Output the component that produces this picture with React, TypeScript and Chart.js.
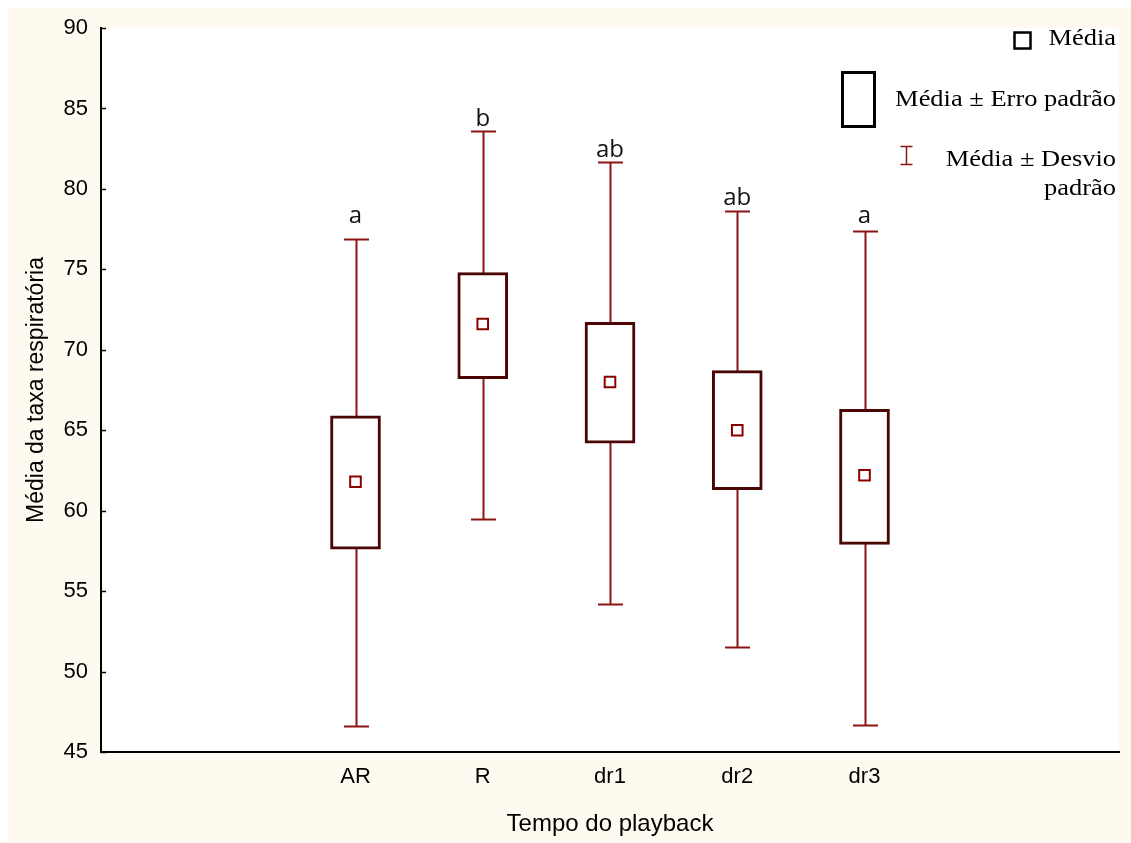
import React, { useEffect, useRef } from 'react';
import { Chart, registerables } from 'chart.js';

Chart.register(...registerables);

// ---- data ----
const slotLabels = ['', '', 'AR', 'R', 'dr1', 'dr2', 'dr3', '', ''];
const firstSlot = 2;
const categories = ['AR', 'R', 'dr1', 'dr2', 'dr3'];
const means = [61.8, 71.6, 68.0, 65.0, 62.2];
const seLow = [57.6, 68.2, 64.2, 61.3, 57.9];
const seHigh = [65.9, 74.8, 71.7, 68.7, 66.3];
const sdLow = [46.6, 59.5, 54.2, 51.5, 46.7];
const sdHigh = [76.9, 83.6, 81.7, 78.6, 77.4];
const groupLetters = ['a', 'b', 'ab', 'ab', 'a'];
const letterValues = [77.9, 83.9, 82.0, 79.0, 77.9];
const yMin = 45;
const yMax = 90;
const yStep = 5;

const CREAM = '#FFFAF0';
const WHISKER = '#8B1414';
const BOXLINE = '#4A0505';
const MEANLINE = '#8B0000';

const pad = <T,>(arr: T[]): (T | null)[] =>
  slotLabels.map((_, i) => {
    const k = i - firstSlot;
    return k >= 0 && k < arr.length ? arr[k] : null;
  });

const bgPlugin = {
  id: 'bgPlugin',
  beforeDraw(chart: any) {
    const { ctx, chartArea, width, height } = chart;
    ctx.save();
    ctx.fillStyle = CREAM;
    ctx.fillRect(0, 0, width, height);
    ctx.fillStyle = '#FFFFFF';
    ctx.fillRect(chartArea.left, chartArea.top, chartArea.right - chartArea.left, chartArea.bottom - chartArea.top);
    ctx.restore();
  },
};

const whiskerPlugin = {
  id: 'whiskerPlugin',
  beforeDatasetsDraw(chart: any) {
    const { ctx } = chart;
    const xs = chart.scales.x;
    const ys = chart.scales.y;
    ctx.save();
    ctx.strokeStyle = WHISKER;
    ctx.lineWidth = 2;
    categories.forEach((_, i) => {
      const x = Math.round(xs.getPixelForValue(i + firstSlot)) + 0.5;
      const yt = Math.round(ys.getPixelForValue(sdHigh[i])) + 0.5;
      const yb = Math.round(ys.getPixelForValue(sdLow[i])) + 0.5;
      ctx.beginPath();
      ctx.moveTo(x, yt);
      ctx.lineTo(x, yb);
      ctx.moveTo(x - 12.5, yt);
      ctx.lineTo(x + 12.5, yt);
      ctx.moveTo(x - 12.5, yb);
      ctx.lineTo(x + 12.5, yb);
      ctx.stroke();
    });
    ctx.restore();
  },
  afterDatasetsDraw(chart: any) {
    const { ctx } = chart;
    const xs = chart.scales.x;
    const ys = chart.scales.y;
    ctx.save();
    ctx.fillStyle = '#111111';
    ctx.font = '24px "Open Sans", sans-serif';
    ctx.textAlign = 'center';
    ctx.textBaseline = 'alphabetic';
    groupLetters.forEach((t, i) => {
      const x = xs.getPixelForValue(i + firstSlot);
      const y = ys.getPixelForValue(letterValues[i]);
      ctx.fillText(t, x, y);
    });
    // inward y ticks
    ctx.strokeStyle = '#000';
    ctx.lineWidth = 1.5;
    const ax = chart.chartArea.left;
    for (let v = yMin; v <= yMax; v += yStep) {
      const y = Math.round(ys.getPixelForValue(v)) + 0.5;
      ctx.beginPath();
      ctx.moveTo(ax, y);
      ctx.lineTo(ax + 5, y);
      ctx.stroke();
    }
    ctx.restore();
  },
};

const legendPlugin = {
  id: 'legendPlugin',
  afterDraw(chart: any) {
    const { ctx } = chart;
    const right = 1108;
    ctx.save();
    // small square (mean)
    ctx.strokeStyle = '#000';
    ctx.lineWidth = 2.5;
    ctx.strokeRect(1006.5, 24.5, 16, 16);
    // big rect (SE)
    ctx.lineWidth = 3;
    ctx.strokeRect(834.5, 64.5, 32, 54);
    // I glyph (SD)
    ctx.strokeStyle = WHISKER;
    ctx.lineWidth = 1.5;
    ctx.beginPath();
    ctx.moveTo(898.5, 138);
    ctx.lineTo(898.5, 157);
    ctx.moveTo(892.5, 138.5);
    ctx.lineTo(904.5, 138.5);
    ctx.moveTo(892.5, 156.5);
    ctx.lineTo(904.5, 156.5);
    ctx.stroke();

    const sx = 1.15;
    ctx.fillStyle = '#000';
    ctx.font = '23px "Liberation Serif", "Times New Roman", serif';
    ctx.textAlign = 'right';
    ctx.textBaseline = 'alphabetic';
    const txt = (t: string, y: number) => {
      ctx.save();
      ctx.translate(right, y);
      ctx.scale(sx, 1);
      ctx.fillText(t, 0, 0);
      ctx.restore();
    };
    txt('Média', 37);
    txt('Média ± Erro padrão', 98);
    txt('Média ± Desvio', 158);
    txt('padrão', 187);
    ctx.restore();
  },
};

export default function App() {
  const ref = useRef<HTMLCanvasElement | null>(null);

  useEffect(() => {
    if (!ref.current) return;
    const boxes = pad(categories.map((_, i) => [seLow[i], seHigh[i]] as [number, number]));
    const chart = new Chart(ref.current, {
      type: 'bar',
      data: {
        labels: slotLabels,
        datasets: [
          {
            type: 'line',
            label: 'Média',
            data: pad(means) as any,
            showLine: false,
            pointStyle: 'rect',
            pointRadius: 7.5,
            pointBorderWidth: 2,
            pointBorderColor: MEANLINE,
            pointBackgroundColor: '#FFFFFF',
            order: 0,
          } as any,
          {
            type: 'bar',
            label: 'Média ± Erro padrão',
            data: boxes as any,
            backgroundColor: '#FFFFFF',
            borderColor: BOXLINE,
            borderWidth: 3,
            borderSkipped: false,
            barThickness: 50,
            order: 1,
          } as any,
        ],
      },
      options: {
        animation: false,
        responsive: false,
        maintainAspectRatio: false,
        events: [],
        layout: { padding: { top: 20, right: 12, left: 0, bottom: 0 } },
        plugins: { legend: { display: false }, tooltip: { enabled: false } },
        scales: {
          x: {
            type: 'category',
            offset: false,
            grid: { display: false, drawTicks: false },
            border: { display: true, color: '#000', width: 2 },
            ticks: {
              autoSkip: false,
              maxRotation: 0,
              padding: 12,
              color: '#000',
              font: { family: '"Liberation Sans", Arial, sans-serif', size: 22 },
            },
            title: {
              display: true,
              text: 'Tempo do playback',
              color: '#000',
              font: { family: '"Liberation Sans", Arial, sans-serif', size: 24 },
              padding: { top: 0, bottom: 4 },
            },
            afterFit(scale: any) {
              scale.height = 91;
              scale.paddingLeft = 0;
              scale.paddingRight = 0;
            },
          },
          y: {
            type: 'linear',
            min: yMin,
            max: yMax,
            grid: { display: false, drawTicks: false },
            border: { display: true, color: '#000', width: 2 },
            ticks: {
              stepSize: yStep,
              padding: 13,
              color: '#000',
              font: { family: '"Liberation Sans", Arial, sans-serif', size: 22 },
            },
            title: {
              display: true,
              text: 'Média da taxa respiratória',
              color: '#000',
              font: { family: '"Liberation Sans", Arial, sans-serif', size: 23 },
              padding: { top: 15, bottom: 0 },
            },
            afterFit(scale: any) {
              scale.width = 93;
              scale.paddingTop = 0;
              scale.paddingBottom = 0;
            },
          },
        },
      },
      plugins: [bgPlugin, whiskerPlugin, legendPlugin],
    });
    return () => chart.destroy();
  }, []);

  return (
    <div style={{ position: 'fixed', left: 8, top: 8, width: 1123, height: 835 }}>
      <canvas ref={ref} width={1123} height={835} style={{ display: 'block', width: 1123, height: 835 }} />
    </div>
  );
}
